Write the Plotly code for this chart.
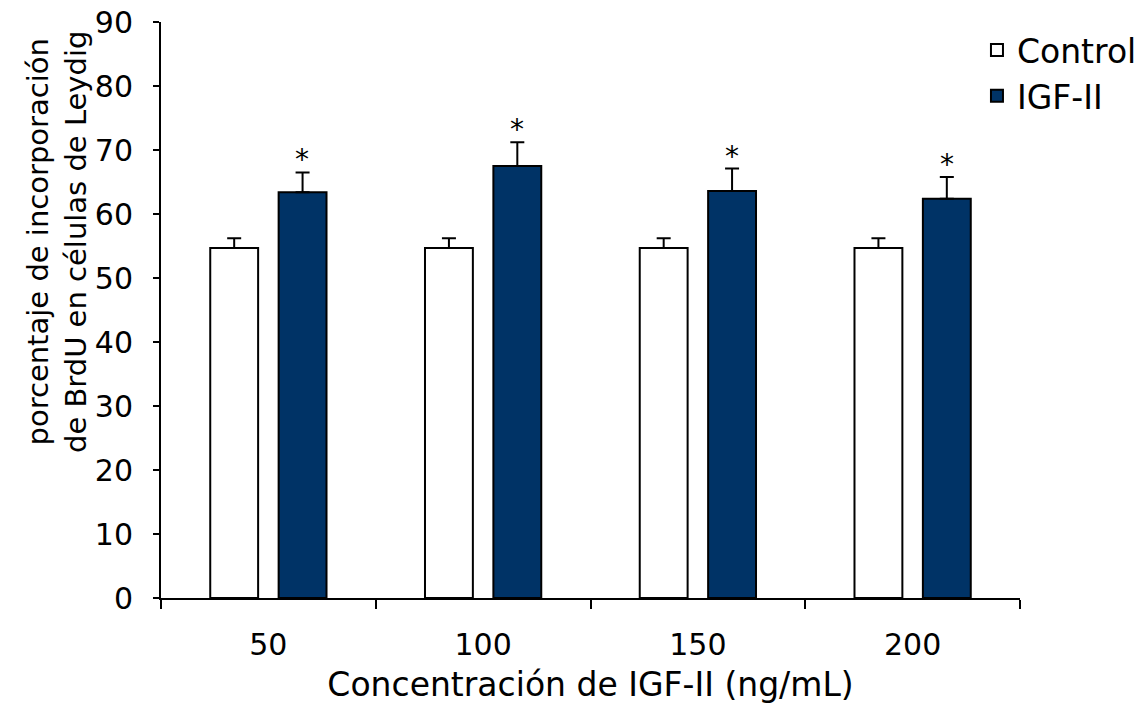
import plotly.graph_objects as go

categories = ["50", "100", "150", "200"]
control_vals = [54.7, 54.7, 54.7, 54.7]
control_err = [1.5, 1.5, 1.5, 1.5]
igf_vals = [63.4, 67.5, 63.6, 62.4]
igf_err = [3.1, 3.7, 3.5, 3.4]
sig_marks = ["*", "*", "*", "*"]

FONT = "DejaVu Sans"

fig = go.Figure()
fig.add_trace(go.Bar(
    name="Control", x=categories, y=control_vals, legendgroup="a",
    marker=dict(color="white", line=dict(color="black", width=2)),
    error_y=dict(type="data", array=control_err, arrayminus=[0]*4, symmetric=False,
                 color="black", thickness=2, width=7),
))
fig.add_trace(go.Bar(
    name="IGF-II", x=categories, y=igf_vals, legendgroup="b",
    marker=dict(color="#003366", line=dict(color="black", width=2)),
    error_y=dict(type="data", array=igf_err, arrayminus=[0]*4, symmetric=False,
                 color="black", thickness=2, width=7),
))

# category axis: annotation x given as category index
for i, (v, e, s) in enumerate(zip(igf_vals, igf_err, sig_marks)):
    fig.add_annotation(x=i, y=v + e, xref="x", yref="y", text=s, showarrow=False,
                       xshift=34, yanchor="bottom", yshift=-6,
                       font=dict(family=FONT, size=28, color="black"))

fig.add_annotation(
    text="porcentaje de incorporación<br>de BrdU en células de Leydig",
    xref="paper", yref="paper", x=0, y=0.618, xshift=-104, textangle=-90,
    showarrow=False, xanchor="center", yanchor="middle",
    font=dict(family=FONT, size=29, color="black"))

fig.update_layout(
    width=1146, height=704,
    margin=dict(l=161, r=126, t=22, b=106, autoexpand=False),
    paper_bgcolor="white", plot_bgcolor="white",
    barmode="group", bargap=0.363, bargroupgap=0.3,
    font=dict(family=FONT, size=30, color="black"),
    legend=dict(xref="container", yref="container", x=0.8525, y=0.96875,
                xanchor="left", yanchor="top", traceorder="grouped",
                tracegroupgap=0, bgcolor="rgba(0,0,0,0)",
                font=dict(family=FONT, size=33, color="black")),
    xaxis=dict(type="category", range=[-0.5, 3.5], automargin=False,
               title=dict(text="Concentración de IGF-II (ng/mL)", standoff=16,
                          font=dict(family=FONT, size=33)),
               showline=True, linecolor="black", linewidth=2,
               ticks="outside", tickson="boundaries", ticklen=9, tickwidth=2,
               tickcolor="black", tickfont=dict(size=30), showgrid=False,
               ticklabelstandoff=19),
    yaxis=dict(range=[0, 90], dtick=10, automargin=False,
               showline=True, linecolor="black", linewidth=2,
               ticks="outside", ticklen=6, tickwidth=2, tickcolor="black",
               tickfont=dict(size=30), showgrid=False, zeroline=False,
               ticklabelstandoff=14),
)

fig.write_html("out.html")
